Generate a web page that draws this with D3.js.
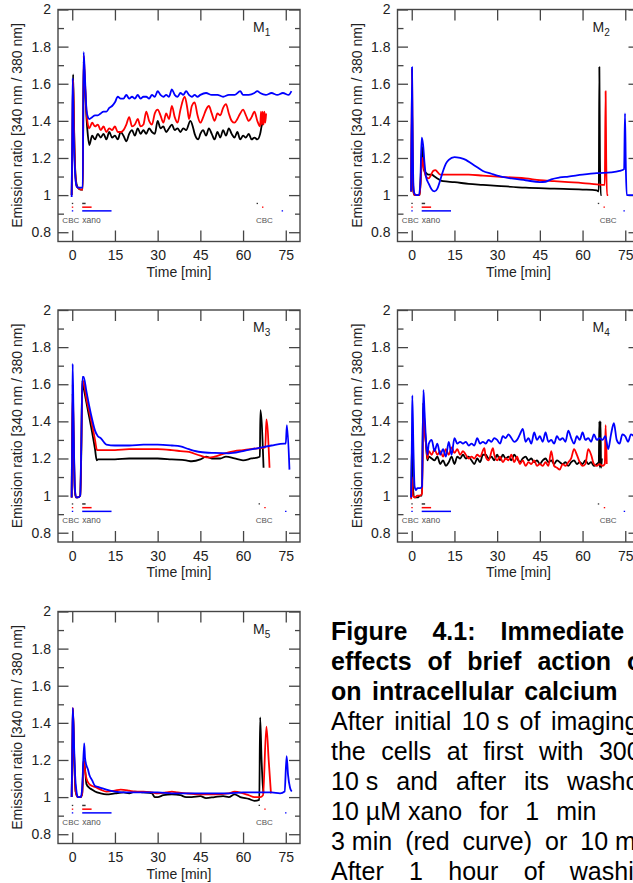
<!DOCTYPE html>
<html>
<head>
<meta charset="utf-8">
<script src="https://cdn.jsdelivr.net/npm/d3@7"></script>
<style>
  body { margin: 0; background: #fff; }
  svg { display: block; }
  text { font-family: "Liberation Sans", Arial, sans-serif; }
</style>
</head>
<body>
<svg id="fig" width="633" height="883"></svg>
<script>

// ---- axis ticks ----
var xTicks = [0, 15, 30, 45, 60, 75];
var xTickLabels = ["0", "15", "30", "45", "60", "75"];
var yTicks = [0.8, 1, 1.2, 1.4, 1.6, 1.8, 2];
var yTickLabels = ["0.8", "1", "1.2", "1.4", "1.6", "1.8", "2"];
var yMinorTicks = [0.9, 1.1, 1.3, 1.5, 1.7, 1.9];

var panelSubs = ["1", "2", "3", "4", "5"];

// ---- measured curves [time (min), ratio] ----
var m1Black = [[-0.2,1.0],[0.1,1.3],[0.3,1.65],[0.6,1.4],[1,1.15],[1.5,1.06],[2,1.04],[3,1.03],[3.7,1.03],[4,1.72],[4.5,1.58],[5,1.42],[5.5,1.32],[6,1.27],[7,1.32],[8,1.3],[9,1.33],[10,1.31],[11,1.33],[12,1.3],[13,1.34],[14,1.31],[15,1.32],[16,1.3],[17,1.34],[18,1.32],[19,1.29],[20,1.33],[21,1.35],[22,1.32],[23,1.36],[24,1.33],[25,1.35],[26,1.33],[27,1.36],[28,1.34],[29,1.33],[30,1.4],[31,1.36],[32,1.37],[33,1.34],[34,1.36],[35,1.38],[36,1.35],[37,1.36],[38,1.34],[39,1.36],[40,1.35],[41.5,1.4],[42.5,1.36],[43,1.33],[44.3,1.3],[45,1.33],[46,1.35],[47,1.32],[48,1.36],[49,1.33],[50,1.3],[51,1.34],[52,1.31],[53,1.35],[54,1.32],[55,1.36],[56,1.33],[57,1.31],[58,1.34],[59,1.3],[60,1.32],[61,1.31],[62,1.33],[63,1.3],[64,1.31],[65,1.3],[66,1.33],[66.5,1.37],[67,1.4]];
var m1Red = [[-0.2,1.0],[0.1,1.4],[0.3,1.62],[0.6,1.38],[1,1.14],[1.5,1.05],[2,1.04],[3,1.03],[3.7,1.03],[4,1.75],[4.5,1.6],[5,1.45],[5.5,1.38],[6,1.36],[7,1.39],[8,1.37],[9,1.38],[10,1.35],[11,1.37],[12,1.34],[13,1.36],[14,1.35],[15,1.37],[16,1.34],[17,1.34],[18,1.35],[19,1.38],[20,1.42],[21,1.37],[22,1.38],[23,1.41],[24,1.37],[25,1.38],[26,1.45],[27,1.4],[28,1.38],[29,1.44],[30,1.46],[31,1.43],[32,1.39],[33,1.44],[34,1.41],[35,1.48],[36,1.42],[37,1.39],[38,1.46],[39.5,1.53],[40.5,1.46],[41,1.41],[42,1.48],[43,1.5],[44,1.43],[45,1.39],[46,1.42],[47,1.46],[48,1.48],[49,1.44],[50,1.4],[51,1.44],[52,1.43],[53,1.47],[54,1.49],[55,1.44],[56,1.4],[57,1.39],[58,1.41],[59,1.44],[60,1.46],[61,1.43],[62,1.4],[63,1.42],[64,1.45],[65,1.4],[66,1.37],[66.3,1.45],[66.6,1.38],[66.9,1.45],[67.2,1.38],[67.5,1.45],[67.8,1.39],[68.1,1.44]];
var m1Blue = [[-0.2,0.99],[0,1.3],[0.15,1.63],[0.5,1.35],[1,1.12],[1.5,1.05],[2,1.04],[3,1.04],[3.7,1.04],[4,1.77],[4.5,1.62],[5,1.46],[5.5,1.42],[6,1.41],[7,1.42],[8,1.43],[9,1.43],[10,1.44],[11,1.45],[12,1.45],[13,1.47],[14,1.48],[15,1.5],[16,1.53],[17,1.52],[18,1.52],[19,1.54],[20,1.52],[21,1.53],[22,1.52],[23,1.54],[24,1.52],[25,1.53],[26,1.53],[27,1.52],[28,1.54],[29,1.53],[30,1.56],[31,1.54],[32,1.53],[33,1.54],[34,1.53],[35,1.57],[36,1.54],[37,1.53],[38,1.55],[39,1.54],[40,1.56],[41,1.54],[42,1.53],[43,1.54],[44,1.53],[45,1.54],[47,1.55],[49,1.54],[51,1.54],[53,1.53],[55,1.54],[57,1.54],[59,1.56],[60,1.54],[62,1.54],[64,1.55],[65,1.56],[66,1.55],[68,1.54],[70,1.55],[72,1.54],[74,1.55],[76,1.54],[77,1.56]];

var m2Black = [[-0.2,1.02],[0.1,1.5],[0.3,1.2],[0.6,1.02],[1,1.0],[2,1.0],[2.8,1.0],[3.3,1.15],[3.7,1.26],[4.2,1.14],[5,1.12],[6,1.11],[7,1.11],[8,1.1],[9,1.09],[10,1.08],[11,1.075],[15,1.07],[20,1.06],[25,1.055],[30,1.05],[40,1.04],[50,1.035],[60,1.03],[65,1.025],[65.7,1.02],[65.9,1.69],[66.1,1.2],[66.4,1.0],[66.7,1.0]];
var m2Red = [[-0.2,1.02],[0.1,1.68],[0.3,1.3],[0.6,1.02],[1,1.0],[2,1.0],[2.8,1.0],[3.3,1.12],[3.7,1.2],[4.2,1.15],[5,1.1],[6,1.09],[6.5,1.1],[7.5,1.13],[8.3,1.135],[9,1.125],[10,1.11],[12,1.11],[20,1.11],[25,1.105],[30,1.1],[35,1.095],[40,1.09],[45,1.08],[50,1.075],[55,1.07],[60,1.065],[65,1.058],[67.8,1.055],[68.1,1.56],[68.3,1.2],[68.6,1.0],[69,1.0]];
var m2Blue = [[-0.2,1.02],[0.1,1.69],[0.3,1.35],[0.6,1.05],[0.9,1.01],[1.5,1.0],[2.5,1.0],[3,1.06],[3.5,1.31],[4,1.27],[4.5,1.17],[5,1.1],[6,1.06],[7,1.03],[8,1.02],[9,1.035],[10,1.08],[11,1.13],[12,1.17],[13,1.19],[15,1.205],[17,1.2],[19,1.19],[21,1.17],[23,1.15],[25,1.13],[28,1.115],[30,1.105],[35,1.09],[40,1.08],[45,1.07],[47,1.072],[49,1.085],[52,1.095],[55,1.1],[60,1.11],[65,1.118],[70,1.122],[73,1.13],[74.6,1.14],[74.9,1.44],[75.2,1.15],[75.5,1.0],[76,1.0],[78,1.0]];

var m3Black = [[-0.2,0.99],[0.15,1.55],[0.5,1.3],[0.9,1.03],[1.3,0.99],[2,0.99],[2.8,1.0],[3.2,1.25],[3.5,1.62],[4,1.58],[5,1.5],[6,1.42],[7,1.34],[8,1.25],[8.6,1.19],[9,1.195],[12,1.195],[15,1.195],[20,1.2],[25,1.2],[30,1.2],[35,1.195],[40,1.19],[42,1.185],[45,1.195],[47,1.21],[49,1.2],[52,1.2],[54,1.21],[57,1.2],[60,1.19],[63,1.2],[65,1.205],[65.9,1.21],[66.1,1.46],[67.2,1.15]];
var m3Red = [[-0.2,0.99],[0.15,1.6],[0.5,1.33],[0.9,1.04],[1.3,0.99],[2,0.99],[2.8,1.0],[3.2,1.28],[3.6,1.62],[4,1.61],[5,1.52],[6,1.45],[7,1.38],[8,1.3],[8.7,1.245],[9,1.245],[15,1.245],[20,1.25],[25,1.25],[30,1.25],[35,1.245],[38,1.24],[41,1.235],[45,1.215],[48,1.205],[50,1.21],[53,1.225],[57,1.24],[60,1.245],[65,1.255],[67.8,1.26],[68.2,1.41],[69.3,1.15]];
var m3Blue = [[-0.2,0.99],[0.05,1.4],[0.15,1.71],[0.5,1.35],[0.9,1.05],[1.3,0.99],[2,0.99],[2.8,1.0],[3.2,1.3],[3.6,1.64],[4,1.64],[5,1.56],[6,1.48],[7,1.41],[8,1.35],[9,1.32],[10,1.31],[11,1.29],[12,1.275],[15,1.27],[20,1.27],[25,1.275],[30,1.275],[35,1.27],[38,1.265],[41,1.25],[45,1.235],[50,1.23],[55,1.228],[60,1.24],[65,1.255],[70,1.27],[74.5,1.28],[75,1.28],[75.4,1.38],[76.3,1.14]];

var m4Black = [[-0.2,0.99],[0.1,1.3],[0.4,1.05],[1,0.99],[2,0.99],[3,1.0],[3.6,1.0],[4,1.5],[4.5,1.38],[5,1.28],[5.5,1.19],[6,1.21],[7,1.2],[8,1.19],[9,1.21],[10,1.17],[11,1.19],[12,1.16],[13,1.18],[14,1.21],[15,1.17],[16,1.21],[17,1.2],[18,1.22],[19,1.2],[20,1.21],[21,1.19],[22,1.17],[23,1.2],[24,1.18],[25,1.22],[26,1.22],[27,1.2],[28,1.21],[29,1.19],[30,1.22],[31,1.19],[32,1.22],[33,1.2],[34,1.21],[35,1.19],[36,1.22],[37,1.2],[38,1.18],[39,1.2],[40,1.21],[41,1.19],[42,1.2],[43,1.18],[44,1.19],[45,1.17],[46,1.19],[47,1.2],[48,1.18],[49,1.19],[50,1.17],[51,1.19],[52,1.18],[53,1.17],[54,1.18],[55,1.16],[56,1.18],[57,1.19],[58,1.17],[59,1.18],[60,1.17],[61,1.19],[62,1.17],[63,1.18],[64,1.16],[65,1.17],[65.7,1.18],[65.9,1.4],[66.1,1.15],[66.3,1.4],[66.5,1.15],[66.8,1.2]];
var m4Red = [[-0.2,0.98],[0.1,1.1],[0.4,1.0],[1,0.99],[2,1.0],[3,1.0],[3.6,1.01],[4.1,1.46],[4.5,1.35],[5,1.28],[5.5,1.2],[6,1.24],[7,1.22],[8,1.25],[9,1.22],[10,1.24],[11,1.21],[12,1.25],[13,1.22],[14,1.26],[15,1.23],[16,1.25],[17,1.22],[18,1.24],[19,1.22],[20,1.2],[21,1.21],[22,1.2],[23,1.22],[24,1.21],[25.5,1.255],[26,1.21],[27,1.19],[28.5,1.255],[29,1.22],[30,1.19],[31,1.21],[32,1.18],[33,1.2],[34,1.19],[35,1.22],[36,1.18],[37,1.21],[38,1.17],[39,1.19],[40,1.16],[41,1.18],[42,1.17],[43,1.19],[44,1.16],[45,1.17],[46,1.16],[47,1.18],[48,1.16],[49,1.24],[50,1.16],[51,1.15],[52,1.14],[53,1.17],[54,1.16],[55,1.18],[56,1.2],[57,1.25],[58,1.22],[59,1.18],[60,1.16],[61,1.17],[62,1.25],[63,1.22],[64,1.17],[65,1.16],[66,1.17],[67,1.16],[67.8,1.17],[68.1,1.38],[68.5,1.17]];
var m4Blue = [[-0.2,0.99],[0.05,1.3],[0.2,1.54],[0.6,1.25],[1,1.05],[1.5,1.03],[2,1.04],[3,1.04],[3.6,1.05],[4.1,1.57],[4.5,1.45],[5,1.3],[5.5,1.22],[6,1.28],[7,1.3],[8,1.24],[9,1.28],[10,1.22],[11,1.25],[12,1.21],[13,1.29],[14,1.22],[15,1.31],[16,1.28],[17,1.29],[18,1.28],[19,1.29],[20,1.27],[21,1.28],[22,1.27],[23,1.31],[24,1.28],[25,1.29],[26,1.28],[27,1.3],[28,1.29],[29,1.31],[30,1.3],[31,1.28],[32,1.32],[33,1.31],[34,1.33],[35,1.31],[36,1.29],[37,1.3],[38,1.33],[39,1.36],[40,1.29],[41,1.31],[42,1.28],[43,1.34],[44,1.3],[45,1.32],[46,1.29],[47,1.34],[48,1.29],[49,1.3],[50,1.28],[51,1.32],[52,1.3],[53,1.31],[54,1.29],[55,1.35],[56,1.31],[57,1.28],[58,1.32],[59,1.3],[60,1.34],[61,1.3],[62,1.31],[63,1.29],[64,1.33],[65,1.3],[66,1.31],[67,1.3],[68,1.32],[69,1.25],[70,1.33],[71,1.39],[72,1.3],[73,1.28],[74,1.33],[75,1.32],[76,1.29],[77,1.33],[78,1.32]];

var m5Black = [[-0.2,1.0],[0.1,1.3],[0.25,1.47],[0.7,1.2],[1.2,1.03],[2,1.0],[3,1.0],[3.5,1.02],[4,1.2],[4.5,1.15],[5,1.07],[6,1.05],[7,1.04],[8,1.03],[10,1.02],[12,1.015],[15,1.02],[18,1.025],[20,1.02],[22,1.03],[25,1.025],[28,1.02],[29,1.0],[30,1.0],[32,1.01],[35,1.015],[38,1.01],[40,1.0],[42,1.0],[45,1.005],[47,0.995],[50,1.0],[53,1.005],[55,1.0],[57,1.015],[59,1.0],[62,0.99],[64,0.98],[65.7,0.985],[66,1.43],[66.5,1.2],[67,1.05],[67.2,1.02]];
var m5Red = [[-0.2,1.0],[0.1,1.35],[0.25,1.48],[0.7,1.22],[1.2,1.03],[2,1.0],[3,1.0],[3.5,1.02],[4,1.2],[4.5,1.14],[5,1.1],[6,1.07],[7,1.06],[8,1.055],[10,1.04],[12,1.03],[15,1.035],[17,1.04],[20,1.035],[22,1.03],[25,1.03],[28,1.025],[30,1.02],[33,1.025],[35,1.03],[37,1.025],[40,1.02],[45,1.015],[50,1.015],[55,1.02],[57,1.03],[60,1.02],[62,1.01],[64,1.0],[66,1.0],[67,1.01],[68.2,1.38],[69,1.2],[69.8,1.02]];
var m5Blue = [[-0.2,1.0],[0.05,1.3],[0.2,1.48],[0.7,1.25],[1,1.12],[1.5,1.03],[2,1.0],[3,1.0],[3.5,1.05],[4.2,1.29],[4.5,1.21],[5,1.17],[5.5,1.15],[6,1.12],[7,1.09],[8,1.06],[9,1.055],[10,1.05],[12,1.04],[15,1.03],[20,1.025],[25,1.025],[30,1.025],[35,1.02],[40,1.02],[45,1.02],[50,1.02],[55,1.02],[60,1.025],[65,1.025],[70,1.025],[73,1.02],[74.6,1.03],[75.3,1.22],[75.8,1.12],[76.5,1.05],[77.1,1.03]];

var panelSeries = [
  [m1Black, m1Red, m1Blue],
  [m2Black, m2Red, m2Blue],
  [m3Black, m3Red, m3Blue],
  [m4Black, m4Red, m4Blue],
  [m5Black, m5Red, m5Blue]
];
var seriesColors = ["#000000", "#ff0000", "#0000ff"];

// ---- application markers (black, red, blue rows) ----
var markRows = [0.955, 0.935, 0.915];
var xanoStart = 3.5;
var xanoEnd = [4.7, 6.8, 13.8];
var cbc2Times = [[65, 66.9, 73.8], [65.6, 67.6, 74.6], [65.7, 67.7, 75], [65.6, 67.7, 74.7], [65.7, 67.7, 75]];
var cbc2Label = [67.5, 69, 67.4, 69, 67.5];

// ---- caption ----
var captionLines = [
  { bold: true,  gap: 25,   words: ["Figure", "4.1:", "Immediate"] },
  { bold: true,  gap: 16,   words: ["effects", "of", "brief", "action", "of"] },
  { bold: true,  gap: 10.5, words: ["on", "intracellular", "calcium"] },
  { bold: false, gap: 10.5, words: ["After", "initial", "10\u00a0s", "of", "imaging"] },
  { bold: false, gap: 15.5, words: ["the", "cells", "at", "first", "with", "300"] },
  { bold: false, gap: 18,   words: ["10\u00a0s", "and", "after", "its", "washout"] },
  { bold: false, gap: 17,   words: ["10\u00a0\u00b5M\u00a0xano", "for", "1", "min"] },
  { bold: false, gap: 13,   words: ["3\u00a0min", "(red", "curve)", "or", "10\u00a0min"] },
  { bold: false, gap: 25.3, words: ["After", "1", "hour", "of", "washing"] }
];

// ---- layout ----
var panelPos = [[58, 9.5], [397.5, 9.5], [58, 310], [397.5, 310], [58, 611.5]];
var pw = 242, ph = 232;
var frameColor = "#454545";

var svg = d3.select("#fig");

var x = d3.scaleLinear().domain([-5, 80]).range([0, pw]);
var y = d3.scaleLinear().domain([0.75, 2]).range([ph, 0]);

var line = d3.line().x(d => x(d[0])).y(d => y(d[1])).curve(d3.curveMonotoneX);

panelSeries.forEach(function(series, p) {
  var g = svg.append("g").attr("transform", "translate(" + panelPos[p][0] + "," + panelPos[p][1] + ")");

  // axes with inward ticks
  g.append("g").attr("transform", "translate(0," + ph + ")")
    .call(d3.axisBottom(x).tickValues(xTicks).tickSize(-11).tickPadding(9)
      .tickFormat((d, i) => xTickLabels[i]));
  g.append("g")
    .call(d3.axisTop(x).tickValues(xTicks).tickSize(-11).tickFormat(""));
  g.append("g")
    .call(d3.axisLeft(y).tickValues(yTicks).tickSize(-10.5).tickPadding(7)
      .tickFormat((d, i) => yTickLabels[i]));
  g.append("g")
    .call(d3.axisLeft(y).tickValues(yMinorTicks).tickSize(-6).tickFormat(""));
  g.append("g").attr("transform", "translate(" + pw + ",0)")
    .call(d3.axisRight(y).tickValues(yTicks).tickSize(-11).tickFormat(""));
  g.append("g").attr("transform", "translate(" + pw + ",0)")
    .call(d3.axisRight(y).tickValues(yMinorTicks).tickSize(-5).tickFormat(""));

  g.selectAll(".domain").remove();
  g.selectAll(".tick line").attr("stroke", frameColor).attr("stroke-width", 1.3);
  g.selectAll(".tick text").attr("fill", "#222").style("font-size", "14px")
    .style("font-family", "'Liberation Sans', Arial, sans-serif");

  g.append("rect").attr("width", pw).attr("height", ph)
    .attr("fill", "none").attr("stroke", frameColor).attr("stroke-width", 1.4);

  // curves
  series.forEach(function(s, k) {
    g.append("path").datum(s)
      .attr("d", line)
      .attr("fill", "none")
      .attr("stroke", seriesColors[k])
      .attr("stroke-width", 1.8)
      .attr("stroke-linejoin", "round");
  });

  // markers: CBC at 0, xano bars, second CBC
  markRows.forEach(function(r, k) {
    var c = k === 0 ? "#333" : seriesColors[k];
    g.append("line").attr("x1", x(-0.15)).attr("x2", x(0.35)).attr("y1", y(r)).attr("y2", y(r))
      .attr("stroke", c).attr("stroke-width", 1.3);
    g.append("line").attr("x1", x(xanoStart)).attr("x2", x(xanoEnd[k])).attr("y1", y(r)).attr("y2", y(r))
      .attr("stroke", c).attr("stroke-width", 1.5);
    g.append("line").attr("x1", x(cbc2Times[p][k] - 0.25)).attr("x2", x(cbc2Times[p][k] + 0.25))
      .attr("y1", y(r)).attr("y2", y(r))
      .attr("stroke", c).attr("stroke-width", 1.3);
  });

  g.append("text").attr("x", x(-0.5)).attr("y", y(0.85)).attr("text-anchor", "middle")
    .style("font-size", "8px").attr("fill", "#555").text("CBC");
  g.append("text").attr("x", x(xanoStart)).attr("y", y(0.85))
    .style("font-size", "8.5px").attr("fill", "#555").text("xano");
  g.append("text").attr("x", x(cbc2Label[p])).attr("y", y(0.85)).attr("text-anchor", "middle")
    .style("font-size", "8px").attr("fill", "#555").text("CBC");

  // panel label
  var lab = g.append("text").attr("x", 195).attr("y", 22).style("font-size", "14px").attr("fill", "#222");
  lab.append("tspan").text("M");
  lab.append("tspan").attr("dy", 4).style("font-size", "10px").text(panelSubs[p]);

  // axis titles
  g.append("text").attr("x", pw / 2).attr("y", ph + 35).attr("text-anchor", "middle")
    .style("font-size", "14px").attr("fill", "#222").text("Time [min]");
  g.append("text").attr("transform", "translate(-36," + (ph / 2) + ") rotate(-90)")
    .attr("text-anchor", "middle").style("font-size", "14px").attr("fill", "#222")
    .text("Emission ratio [340 nm / 380 nm]");
});

// caption (justified lines, clipped by the page edge like the source)
var cap = svg.append("g");
captionLines.forEach(function(ln, i) {
  var cx = 331;
  var by = 640 + i * 30;
  ln.words.forEach(function(w) {
    var t = cap.append("text").attr("x", cx).attr("y", by)
      .style("font-size", "25px").style("font-weight", ln.bold ? "bold" : "normal")
      .attr("fill", "#000").text(w);
    cx += t.node().getComputedTextLength() + ln.gap;
  });
});

</script>
</body>
</html>
